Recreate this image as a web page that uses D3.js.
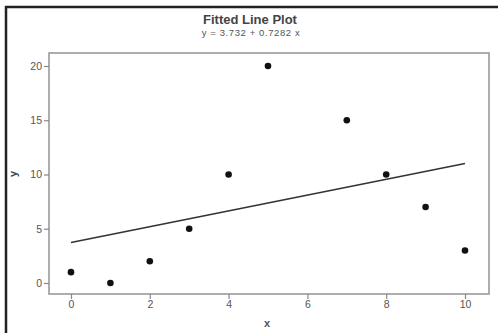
<!DOCTYPE html>
<html><head><meta charset="utf-8">
<script src="https://cdn.jsdelivr.net/npm/d3@7"></script>
<style>body{margin:0;background:#fff;}svg{display:block;font-family:"Liberation Sans",Arial,sans-serif;}</style>
</head><body>
<svg id="c" width="498" height="333"></svg>
<script>
const xs = [0,1,2,3,4,5,7,8,9,10];
const ys = [1,0,2,5,10,20,15,10,7,3];
const xTicks = [0,2,4,6,8,10];
const yTicks = [0,5,10,15,20];
const intercept = 3.732, slope = 0.7282;
const title = "Fitted Line Plot";
const subtitle = "y =  3.732 + 0.7282 x";

const svg = d3.select("#c");
// outer border (top and left visible)
svg.append("path").attr("d","M6,333V7H498").attr("fill","none").attr("stroke","#222").attr("stroke-width",2.5);

const x = d3.scaleLinear().domain([0,10]).range([71,465]);
const y = d3.scaleLinear().domain([0,20]).range([283,66]);
const L=49,R=489,T=53,B=294;

svg.append("rect").attr("x",L).attr("y",T).attr("width",R-L).attr("height",B-T)
  .attr("fill","none").attr("stroke","#999").attr("stroke-width",1.6);

const gx = svg.append("g").attr("transform",`translate(0,${B})`)
  .call(d3.axisBottom(x).tickValues(xTicks).tickSize(5).tickPadding(2));
const gy = svg.append("g").attr("transform",`translate(${L},0)`)
  .call(d3.axisLeft(y).tickValues(yTicks).tickSize(5).tickPadding(2));
[gx,gy].forEach(g=>{
  g.select(".domain").remove();
  g.selectAll("line").attr("stroke","#888").attr("stroke-width",1.2);
  g.selectAll("text").attr("fill","#555").attr("font-size",10.5).attr("font-family","Liberation Sans, Arial, sans-serif");
});

svg.append("line").attr("x1",x(0)).attr("x2",x(10))
  .attr("y1",y(intercept)).attr("y2",y(intercept+slope*10))
  .attr("stroke","#333").attr("stroke-width",1.5);

svg.selectAll("circle.p").data(xs.map((v,i)=>[v,ys[i]])).enter().append("circle")
  .attr("class","p").attr("cx",d=>x(d[0])).attr("cy",d=>y(d[1])).attr("r",3.3).attr("fill","#111");

svg.append("text").attr("x",250).attr("y",24).attr("text-anchor","middle")
  .attr("font-size",13).attr("font-weight","bold").attr("fill","#444").text(title);
svg.append("text").attr("x",251).attr("y",36).attr("text-anchor","middle")
  .attr("font-size",9.5).attr("letter-spacing",0.6).attr("fill","#555").text(subtitle);

svg.append("text").attr("x",267).attr("y",327).attr("text-anchor","middle")
  .attr("font-size",11).attr("font-weight","bold").attr("fill","#555").text("x");
svg.append("text").attr("transform","translate(17,174) rotate(-90)").attr("text-anchor","middle")
  .attr("font-size",11).attr("font-weight","bold").attr("fill","#444").text("y");
</script>
</body></html>
